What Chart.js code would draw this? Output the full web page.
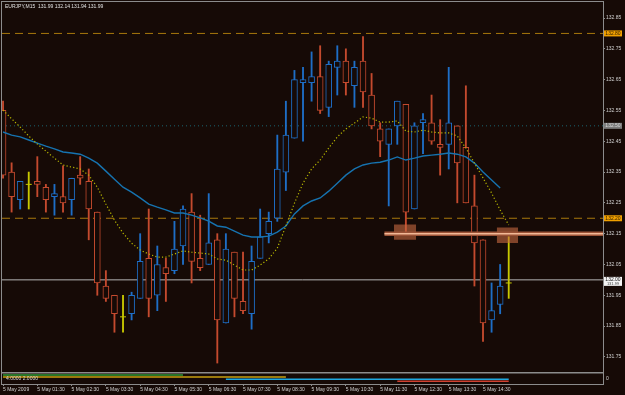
<!DOCTYPE html>
<html>
<head>
<meta charset="utf-8">
<script src="https://cdn.jsdelivr.net/npm/chart.js@4.4.1/dist/chart.umd.min.js"></script>
<style>
  html, body { margin: 0; padding: 0; background: #160a06; }
  #wrap { width: 625px; height: 395px; }
</style>
</head>
<body>
<div id="wrap"><canvas id="chart" width="625" height="395"></canvas></div>
<script>
const symbol = 'EURJPY,M15';

// 15-minute bars, 5 May 2009 00:30 .. 15:15
const opens  = [132.55,132.35,132.26,132.31,132.32,132.30,132.27,132.27,132.26,132.34,
                132.32,132.22,131.98,131.95,131.88,131.89,131.94,132.07,131.95,132.04,
                132.03,132.11,132.22,132.07,132.05,132.13,131.86,132.09,131.93,131.89,
                132.07,132.15,132.20,132.35,132.46,132.64,132.64,132.66,132.56,132.69,
                132.71,132.63,132.71,132.60,132.49,132.44,132.50,132.57,132.23,132.51,
                132.51,132.44,132.44,132.50,132.43,132.24,132.13,131.87,131.92,131.99];
const highs  = [132.58,132.38,132.32,132.35,132.40,132.31,132.31,132.37,132.33,132.40,
                132.36,132.22,132.03,131.95,131.95,131.96,132.15,132.23,132.11,132.07,
                132.19,132.24,132.28,132.21,132.28,132.15,132.15,132.09,132.09,132.11,
                132.23,132.22,132.47,132.58,132.68,132.69,132.74,132.76,132.71,132.76,
                132.75,132.71,132.79,132.67,132.51,132.49,132.58,132.57,132.51,132.54,
                132.60,132.52,132.69,132.50,132.63,132.34,132.13,131.99,132.05,132.14];
const lows   = [132.33,132.22,132.23,132.23,132.27,132.22,132.21,132.22,132.21,132.31,
                132.13,131.95,131.93,131.83,131.83,131.87,131.94,131.88,131.90,131.93,
                132.02,132.05,131.99,132.03,132.05,131.73,131.86,131.88,131.89,131.84,
                132.07,132.12,132.19,132.29,132.46,132.45,132.58,132.54,132.53,132.60,
                132.60,132.56,132.56,132.49,132.40,132.24,132.44,132.15,132.23,132.41,
                132.44,132.34,132.36,132.25,132.25,131.98,131.80,131.83,131.89,131.94];
const closes = [132.34,132.27,132.32,132.31,132.31,132.26,132.28,132.25,132.33,132.33,
                132.23,131.99,131.94,131.89,131.88,131.95,132.06,131.94,132.05,132.02,
                132.10,132.23,132.06,132.04,132.12,131.87,132.10,131.94,131.90,132.06,
                132.14,132.19,132.36,132.47,132.65,132.65,132.66,132.55,132.70,132.71,
                132.64,132.69,132.61,132.50,132.45,132.49,132.58,132.22,132.50,132.52,
                132.45,132.43,132.51,132.38,132.25,132.12,131.86,131.90,131.98,131.99];

// moving averages (yellow dotted = fast, blue = slow)
const fastMa = [132.551,132.523,132.496,132.467,132.441,132.418,132.395,132.373,132.366,132.360,
                132.340,132.301,132.246,132.194,132.152,132.119,132.097,132.084,132.074,132.074,
                132.084,132.094,132.090,132.087,132.084,132.068,132.064,132.048,132.032,132.032,
                132.048,132.068,132.103,132.175,132.249,132.314,132.360,132.389,132.428,132.464,
                132.490,132.509,132.529,132.525,132.512,132.512,132.516,132.483,132.480,132.486,
                132.480,132.477,132.477,132.467,132.428,132.379,132.331,132.282,132.227,132.178];
const slowMa = [132.480,132.470,132.464,132.454,132.444,132.434,132.425,132.415,132.412,132.408,
                132.395,132.379,132.353,132.327,132.301,132.285,132.266,132.246,132.236,132.227,
                132.217,132.217,132.210,132.201,132.191,132.175,132.171,132.158,132.145,132.139,
                132.139,132.142,132.155,132.175,132.214,132.240,132.256,132.266,132.288,132.314,
                132.340,132.360,132.373,132.379,132.382,132.389,132.399,132.389,132.395,132.402,
                132.405,132.408,132.412,132.408,132.399,132.379,132.350,132.324,132.298,null];

const tickBars   = [0,4,8,12,16,20,24,28,32,36,40,44,48,52,56];
const timeLabels = ['5 May 2009','5 May 01:30','5 May 02:30','5 May 03:30','5 May 04:30',
                    '5 May 05:30','5 May 06:30','5 May 07:30','5 May 08:30','5 May 09:30',
                    '5 May 10:30','5 May 11:30','5 May 12:30','5 May 13:30','5 May 14:30'];
const priceTicks = [132.85,132.75,132.65,132.55,132.45,132.35,132.25,132.15,132.05,131.95,131.85,131.75];

// horizontal levels: two dashed, one dotted, one solid
const levelPrices = [132.80, 132.50, 132.20, 132.00];
const bidPrice = 131.99;

// support band and the two marked zones
const bandPrice = 132.15;
const bandFrom = 44.5;
const zoneFrom = [45.6, 57.6];
const zoneTo   = [48.2, 60.1];
const zoneLow  = [132.13, 132.12];
const zoneHigh = [132.18, 132.17];

// lower indicator window
const subStart = [0, 0, 26, 46];
const subEnd   = [21, 33, 59, 59];
const subLevel = [3.5, 2.6, 1.6, 0.7];

const xMin = -0.12, xMax = 70;
const BG = '#160a06';
const UP = '#1e6ec6', DOWN = '#c44a2e', FLAT = '#c8c800';
const FONT = "'Liberation Sans', Arial, sans-serif";

const candleColor = i => closes[i] > opens[i] ? UP : (closes[i] < opens[i] ? DOWN : FLAT);
const idx = opens.map((_, i) => i);

const wicks = idx.map(i => ({ x: i, y: [lows[i], highs[i]] }));
const bodies = idx.filter(i => opens[i] !== closes[i])
    .map(i => ({ x: i, y: [Math.min(opens[i], closes[i]), Math.max(opens[i], closes[i])] }));
const dojis = idx.filter(i => opens[i] === closes[i]).map(i => ({ x: i, y: opens[i] }));

const levelStyles = [
    { color: '#a8780c', dash: [8, 5], width: 1 },
    { color: '#1a6470', dash: [1, 3], width: 1 },
    { color: '#a8780c', dash: [8, 5], width: 1 },
    { color: '#b4b4b4', dash: [], width: 1 }
];
const subColors = ['#2f9a35', '#c8a010', '#1ea8e0', '#d04030'];

const datasets = [];

datasets.push({
    type: 'line', label: 'fast', order: 0,
    data: idx.map(i => ({ x: i, y: fastMa[i] })),
    borderColor: '#b8b800', borderWidth: 1.2, borderDash: [1.2, 2.2],
    pointRadius: 0, tension: 0
});
datasets.push({
    type: 'line', label: 'slow', order: 1,
    data: idx.filter(i => slowMa[i] !== null).map(i => ({ x: i, y: slowMa[i] })),
    borderColor: '#1673b0', borderWidth: 1.4,
    pointRadius: 0, tension: 0
});
datasets.push({
    type: 'line', label: 'band', order: 2,
    data: [{ x: bandFrom, y: bandPrice }, { x: xMax, y: bandPrice }],
    borderColor: '#f2b896', borderWidth: 1.5, pointRadius: 0
});
datasets.push({
    type: 'line', label: 'bandEdge', order: 3,
    data: [{ x: bandFrom, y: bandPrice }, { x: xMax, y: bandPrice }],
    borderColor: '#9a5236', borderWidth: 4.5, pointRadius: 0
});
zoneFrom.forEach((f, k) => {
    datasets.push({
        type: 'line', label: 'zoneLow' + k, order: 4,
        data: [{ x: f, y: zoneLow[k] }, { x: zoneTo[k], y: zoneLow[k] }],
        borderWidth: 0, pointRadius: 0
    });
    datasets.push({
        type: 'line', label: 'zoneHigh' + k, order: 4,
        data: [{ x: f, y: zoneHigh[k] }, { x: zoneTo[k], y: zoneHigh[k] }],
        borderWidth: 0, pointRadius: 0,
        fill: '-1', backgroundColor: 'rgba(200,105,65,0.6)'
    });
});
datasets.push({
    type: 'line', label: 'doji', order: 5, showLine: false,
    data: dojis, pointStyle: 'line', pointRadius: 3,
    borderColor: FLAT, borderWidth: 1
});
datasets.push({
    type: 'bar', label: 'bodies', order: 6, grouped: false,
    data: bodies, barThickness: 6, borderWidth: 1, borderSkipped: false,
    backgroundColor: BG,
    borderColor: ctx => { const d = ctx.raw; return d ? candleColor(d.x) : UP; }
});
datasets.push({
    type: 'bar', label: 'wicks', order: 7, grouped: false,
    data: wicks, barThickness: 1.2, borderWidth: 0,
    backgroundColor: ctx => { const d = ctx.raw; return d ? candleColor(d.x) : UP; }
});
levelPrices.forEach((p, k) => {
    datasets.push({
        type: 'line', label: 'level' + k, order: 8,
        data: [{ x: xMin, y: p }, { x: xMax, y: p }],
        borderColor: levelStyles[k].color, borderDash: levelStyles[k].dash,
        borderWidth: levelStyles[k].width, pointRadius: 0
    });
});
subStart.forEach((s, k) => {
    datasets.push({
        type: 'line', label: 'sub' + k, order: 9, yAxisID: 'ySub',
        data: [{ x: s, y: subLevel[k] }, { x: subEnd[k], y: subLevel[k] }],
        borderColor: subColors[k], borderWidth: 1.4, pointRadius: 0
    });
});

const frame = {
    id: 'frame',
    beforeDraw(chart) {
        const ctx = chart.ctx;
        ctx.save();
        ctx.fillStyle = BG;
        ctx.fillRect(0, 0, chart.width, chart.height);
        ctx.restore();
    },
    afterDraw(chart) {
        const { ctx, chartArea: a, scales } = chart;
        ctx.save();
        ctx.strokeStyle = '#8c8c8c';
        ctx.lineWidth = 1;
        ctx.strokeRect(a.left - 0.5, a.top - 0.5, a.right - a.left + 1, a.bottom - a.top + 1);

        // lower window separator
        const sepY = scales.ySub.getPixelForValue(4.5);
        ctx.fillStyle = BG;
        ctx.fillRect(a.left, sepY - 1.5, a.right - a.left, 1.5);
        ctx.lineWidth = 1.5;
        ctx.beginPath();
        ctx.moveTo(a.left, sepY);
        ctx.lineTo(a.right, sepY);
        ctx.stroke();

        ctx.font = '5px ' + FONT;
        ctx.textBaseline = 'middle';
        ctx.fillStyle = '#d8d8d8';
        ctx.fillText('4.0000 2.0000', a.left + 4, sepY + 6);
        ctx.fillText('0', a.right + 3, sepY + 6);

        // title line
        const n = opens.length - 1;
        const title = symbol + '  ' + [opens[n], highs[n], lows[n], closes[n]].map(v => v.toFixed(2)).join(' ');
        ctx.textBaseline = 'top';
        ctx.fillStyle = '#e0e0e0';
        ctx.fillText(title, a.left + 3, a.top + 2);

        // price tags for the levels
        const tags = [
            { bg: '#f0a000', fg: '#2a1a00' },
            { bg: '#7c7c7c', fg: '#d8d8d8' },
            { bg: '#f0a000', fg: '#2a1a00' },
            { bg: '#f4f4f4', fg: '#101010' }
        ];
        ctx.textBaseline = 'middle';
        ctx.textAlign = 'center';
        levelPrices.forEach((p, k) => {
            const y = scales.y.getPixelForValue(p);
            const h = k === 3 ? 9 : 6;
            ctx.fillStyle = tags[k].bg;
            ctx.fillRect(a.right + 1, y - 3, 18, h);
            ctx.fillStyle = tags[k].fg;
            ctx.fillText(p.toFixed(2), a.right + 10, y);
        });
        const by = scales.y.getPixelForValue(levelPrices[3]) + 4;
        ctx.font = '4px ' + FONT;
        ctx.fillStyle = '#404040';
        ctx.fillText(bidPrice.toFixed(2), a.right + 10, by);
        ctx.restore();
    }
};

new Chart(document.getElementById('chart'), {
    type: 'bar',
    data: { datasets },
    options: {
        responsive: false,
        animation: false,
        layout: { autoPadding: false, padding: { left: 2, top: 2, right: 0, bottom: 0 } },
        plugins: { legend: { display: false }, tooltip: { enabled: false } },
        scales: {
            x: {
                type: 'linear', min: xMin, max: xMax, offset: false,
                afterBuildTicks: s => { s.ticks = tickBars.map(v => ({ value: v })); },
                afterFit: s => { s.height = 11; s.paddingLeft = 0; s.paddingRight = 0; },
                grid: { drawOnChartArea: false, tickLength: 2, color: '#8c8c8c', offset: false },
                border: { color: '#8c8c8c' },
                ticks: {
                    autoSkip: false, maxRotation: 0, align: 'start', padding: 1,
                    color: '#d0d0d0', font: { size: 5, family: FONT },
                    callback: (v, i) => timeLabels[i]
                }
            },
            y: {
                position: 'right', min: 131.662, max: 132.902,
                afterBuildTicks: s => { s.ticks = priceTicks.map(v => ({ value: v })); },
                afterFit: s => { s.width = 22; s.paddingTop = 0; s.paddingBottom = 0; },
                grid: { drawOnChartArea: false, tickLength: 2, color: '#8c8c8c' },
                border: { color: '#8c8c8c' },
                ticks: {
                    padding: 1, color: '#d0d0d0', font: { size: 5, family: FONT },
                    callback: v => v.toFixed(2)
                }
            },
            ySub: {
                display: false, min: -0.5, max: 168.5
            }
        }
    },
    plugins: [frame]
});
</script>
</body>
</html>
